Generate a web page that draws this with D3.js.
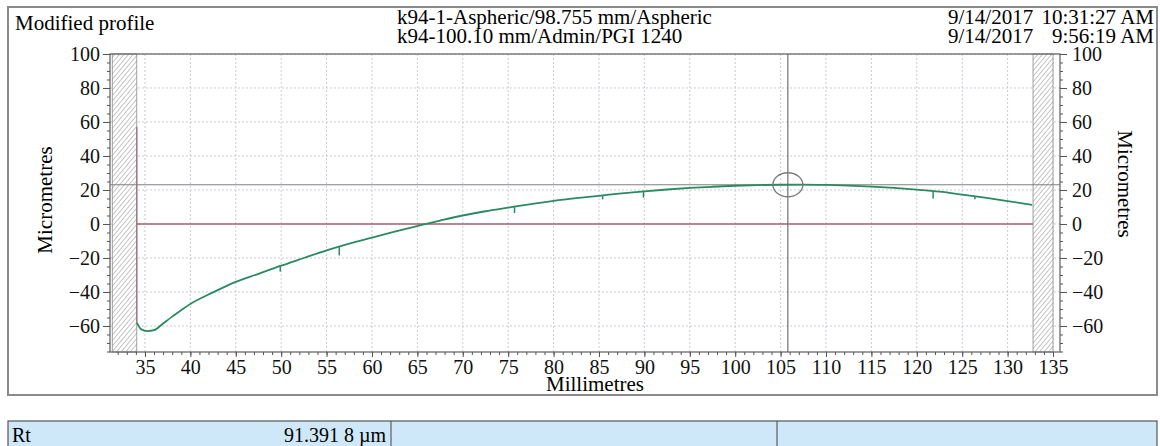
<!DOCTYPE html>
<html>
<head>
<meta charset="utf-8">
<script src="https://cdn.jsdelivr.net/npm/d3@7"></script>
<style>
  body { margin: 0; background: #fff; }
  svg { display: block; font-family: "Liberation Serif", "DejaVu Serif", serif; }
</style>
</head>
<body>
<div id="chart"></div>
<script>
// profile data (mm, micrometres)
const profileX = [34.1, 34.6, 35.3, 36, 37, 38, 40, 42.5, 45, 47.5, 50, 52.5, 55, 57.5, 60, 62.5, 65, 67.5, 70, 72.5, 75, 77.5, 80, 82.5, 85, 87.5, 90, 92.5, 95, 97.5, 100, 102.5, 105, 107.5, 110, 112.5, 115, 117.5, 120, 122.5, 125, 127.5, 130, 132.7];
const profileY = [-58, -62, -63, -62.5, -58.5, -54.5, -47, -40.2, -34, -29.3, -24.5, -20, -15.5, -11.5, -8, -4.5, -1.2, 2, 5, 7.5, 9.6, 11.7, 13.6, 15.2, 16.6, 18, 19.2, 20.3, 21.2, 21.9, 22.5, 22.9, 23.1, 23.2, 23, 22.6, 22, 21.2, 20.2, 19, 17.3, 15.5, 13.5, 11.3];

// small downward spikes on the profile
const spikeX = [49.9, 56.4, 75.7, 85.4, 89.9, 121.8, 126.4];
const spikeTop = [-25, -13.5, 10, 16.8, 19.5, 19.5, 16.3];
const spikeBottom = [-28, -18.5, 6.5, 14.5, 15.5, 15, 14.5];

// start edge of the profile
const edgeX = [34.1, 34.1];
const edgeY = [57, -58];

// excluded (hatched) zones
const zoneStart = [31.4, 132.8];
const zoneEnd = [34.1, 135];

// cursor
const cursorX = 105.8;
const cursorY = 23.1;

const xTicks = [35, 40, 45, 50, 55, 60, 65, 70, 75, 80, 85, 90, 95, 100, 105, 110, 115, 120, 125, 130, 135];
const yTicks = [100, 80, 60, 40, 20, 0, -20, -40, -60];

const headerLeft = "Modified profile";
const headerMid = ["k94-1-Aspheric/98.755 mm/Aspheric", "k94-100.10 mm/Admin/PGI 1240"];
const headerDate = ["9/14/2017", "9/14/2017"];
const headerTime = ["10:31:27 AM", "9:56:19 AM"];
const tableLabel = "Rt";
const tableValue = "91.391 8 µm";

const width = 1160, height = 446;
const plot = { left: 110, right: 1060, top: 54, bottom: 352 };

const svg = d3.select("#chart")
    .append("svg")
    .attr("width", width)
    .attr("height", height);

// outer frame
svg.append("rect")
    .attr("x", 8).attr("y", 7)
    .attr("width", 1149).attr("height", 388)
    .attr("fill", "none")
    .attr("stroke", "#8a8a8a")
    .attr("stroke-width", 2);

// header texts
svg.append("text")
    .attr("x", 15).attr("y", 30)
    .style("font-size", "21px")
    .text(headerLeft);

svg.selectAll(".hmid")
    .data(headerMid)
    .enter().append("text")
    .attr("x", 397)
    .attr("y", (d, i) => 24 + i * 19)
    .style("font-size", "21px")
    .text(d => d);

svg.selectAll(".hdate")
    .data(headerDate)
    .enter().append("text")
    .attr("x", 948)
    .attr("y", (d, i) => 24 + i * 19)
    .style("font-size", "21px")
    .text(d => d);

svg.selectAll(".htime")
    .data(headerTime)
    .enter().append("text")
    .attr("x", 1154)
    .attr("y", (d, i) => 24 + i * 19)
    .attr("text-anchor", "end")
    .style("font-size", "21px")
    .text(d => d);

// scales
var x = d3.scaleLinear()
    .domain([31.15, 135.77])
    .range([plot.left, plot.right]);

var y = d3.scaleLinear()
    .domain([-75.3, 100])
    .range([plot.bottom, plot.top]);

const g = svg.append("g");

// hatch pattern for excluded zones
const defs = svg.append("defs");
const pat = defs.append("pattern")
    .attr("id", "hatch")
    .attr("patternUnits", "userSpaceOnUse")
    .attr("width", 3.5).attr("height", 3.5)
    .attr("patternTransform", "rotate(40)");
pat.append("rect").attr("width", 3.5).attr("height", 3.5).attr("fill", "#fff");
pat.append("line")
    .attr("x1", 0).attr("y1", 0).attr("x2", 0).attr("y2", 3.5)
    .attr("stroke", "#8c8c8c").attr("stroke-width", 1);

// grid (dotted)
g.selectAll(".gx")
    .data(xTicks)
    .enter().append("line")
    .attr("x1", d => x(d)).attr("x2", d => x(d))
    .attr("y1", plot.top).attr("y2", plot.bottom)
    .attr("stroke", "#c9cbd8")
    .attr("stroke-dasharray", "2,2");

g.selectAll(".gy")
    .data(yTicks)
    .enter().append("line")
    .attr("x1", plot.left).attr("x2", plot.right)
    .attr("y1", d => y(d)).attr("y2", d => y(d))
    .attr("stroke", "#c9cbd8")
    .attr("stroke-dasharray", "2,2");

// hatched zones
g.selectAll(".zone")
    .data(zoneStart)
    .enter().append("rect")
    .attr("x", d => x(d))
    .attr("width", (d, i) => x(zoneEnd[i]) - x(d))
    .attr("y", plot.top)
    .attr("height", plot.bottom - plot.top)
    .attr("fill", "url(#hatch)")
    .attr("stroke", "#8a8a8a")
    .attr("stroke-width", 0.8);

// zero line
g.append("line")
    .attr("x1", x(zoneEnd[0])).attr("x2", x(zoneStart[1]))
    .attr("y1", y(0)).attr("y2", y(0))
    .attr("stroke", "#a86070")
    .attr("stroke-width", 1.3);

// cursor lines
g.append("line")
    .attr("x1", x(cursorX)).attr("x2", x(cursorX))
    .attr("y1", plot.top).attr("y2", plot.bottom)
    .attr("stroke", "#707070")
    .attr("stroke-width", 1.2);
g.append("line")
    .attr("x1", plot.left).attr("x2", plot.right)
    .attr("y1", y(cursorY)).attr("y2", y(cursorY))
    .attr("stroke", "#808080")
    .attr("stroke-width", 1.2);

// start edge
g.append("line")
    .attr("x1", x(edgeX[0])).attr("x2", x(edgeX[1]))
    .attr("y1", y(edgeY[0])).attr("y2", y(edgeY[1]))
    .attr("stroke", "#9a7078")
    .attr("stroke-width", 1.3);

// profile line
var line = d3.line()
    .x((d, i) => x(profileX[i]))
    .y(d => y(d))
    .curve(d3.curveMonotoneX);

g.append("path")
    .datum(profileY)
    .attr("fill", "none")
    .attr("stroke", "#2a8a60")
    .attr("stroke-width", 1.8)
    .attr("d", line);

// spikes
g.selectAll(".spike")
    .data(spikeX)
    .enter().append("line")
    .attr("x1", d => x(d)).attr("x2", d => x(d))
    .attr("y1", (d, i) => y(spikeTop[i]))
    .attr("y2", (d, i) => y(spikeBottom[i]))
    .attr("stroke", "#2a8a60")
    .attr("stroke-width", 1.5);

// cursor ellipse
g.append("ellipse")
    .attr("cx", x(cursorX)).attr("cy", y(cursorY))
    .attr("rx", 15).attr("ry", 12)
    .attr("fill", "none")
    .attr("stroke", "#7a7a7a")
    .attr("stroke-width", 1.3);

// plot border
g.append("rect")
    .attr("x", plot.left).attr("y", plot.top)
    .attr("width", plot.right - plot.left)
    .attr("height", plot.bottom - plot.top)
    .attr("fill", "none")
    .attr("stroke", "#6a6a6a")
    .attr("stroke-width", 1.3);

// minor ticks
const yMinor = d3.range(-75, 101, 5);
const xMinor = d3.range(32, 136, 1);

function styleAxis(sel) {
    sel.attr("font-family", null).attr("font-size", null);
    sel.select(".domain").remove();
    sel.selectAll("line").attr("stroke", "#555");
    sel.selectAll("text")
        .style("font-family", "Liberation Serif")
        .style("font-size", "20px")
        .attr("fill", "#111");
}

svg.append("g")
    .attr("transform", "translate(" + plot.left + ",0)")
    .call(d3.axisLeft(y).tickValues(yMinor).tickSize(3).tickFormat(""))
    .call(styleAxis);
svg.append("g")
    .attr("transform", "translate(" + plot.right + ",0)")
    .call(d3.axisRight(y).tickValues(yMinor).tickSize(3).tickFormat(""))
    .call(styleAxis);
svg.append("g")
    .attr("transform", "translate(0," + plot.bottom + ")")
    .call(d3.axisBottom(x).tickValues(xMinor).tickSize(3).tickFormat(""))
    .call(styleAxis);

// major ticks and labels
svg.append("g")
    .attr("transform", "translate(" + plot.left + ",0)")
    .call(d3.axisLeft(y).tickValues(yTicks).tickSize(7).tickPadding(3).tickFormat(d => d < 0 ? "\u2212" + (-d) : d))
    .call(styleAxis);
svg.append("g")
    .attr("transform", "translate(" + plot.right + ",0)")
    .call(d3.axisRight(y).tickValues(yTicks).tickSize(7).tickPadding(5).tickFormat(d => d < 0 ? "\u2212" + (-d) : d))
    .call(styleAxis);
svg.append("g")
    .attr("transform", "translate(0," + plot.bottom + ")")
    .call(d3.axisBottom(x).tickValues(xTicks).tickSize(5).tickPadding(3))
    .call(styleAxis);

// axis titles
svg.append("text")
    .attr("transform", "translate(52,200) rotate(-90)")
    .attr("text-anchor", "middle")
    .style("font-size", "21px")
    .text("Micrometres");
svg.append("text")
    .attr("transform", "translate(1118,184) rotate(90)")
    .attr("text-anchor", "middle")
    .style("font-size", "21px")
    .text("Micrometres");
svg.append("text")
    .attr("x", 595).attr("y", 391)
    .attr("text-anchor", "middle")
    .style("font-size", "21px")
    .text("Millimetres");

// results table row
svg.append("rect")
    .attr("x", 8).attr("y", 421)
    .attr("width", 1149).attr("height", 30)
    .attr("fill", "#cfe8f9")
    .attr("stroke", "#555")
    .attr("stroke-width", 1.2);
[391, 777].forEach(cx => {
    svg.append("line")
        .attr("x1", cx).attr("x2", cx)
        .attr("y1", 421).attr("y2", 446)
        .attr("stroke", "#444");
});
svg.append("text")
    .attr("x", 12).attr("y", 442)
    .style("font-size", "20px")
    .text(tableLabel);
svg.append("text")
    .attr("x", 386).attr("y", 442)
    .attr("text-anchor", "end")
    .style("font-size", "20px")
    .text(tableValue);
</script>
</body>
</html>
